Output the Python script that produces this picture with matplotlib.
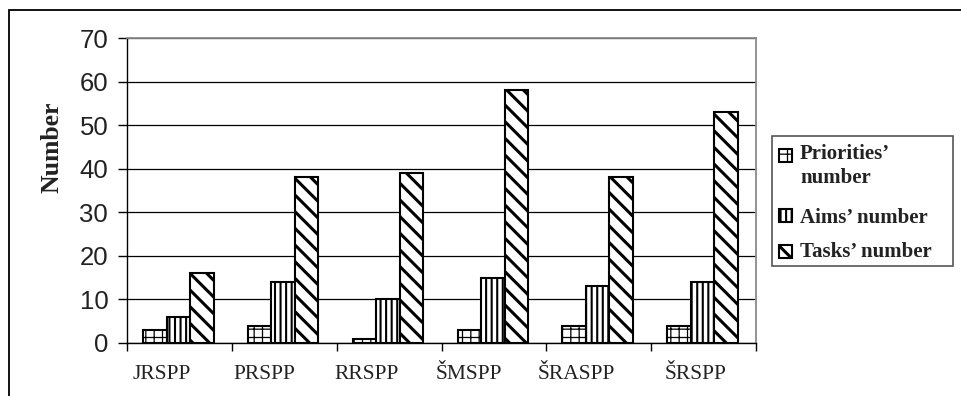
import matplotlib
matplotlib.use('Agg')
import matplotlib.pyplot as plt
from matplotlib.patches import Rectangle
import numpy as np

# ---- data ----
categories = ['JRSPP', 'PRSPP', 'RRSPP', 'ŠMSPP', 'ŠRASPP', 'ŠRSPP']
priorities = [3, 4, 1, 3, 4, 4]
aims = [6, 14, 10, 15, 13, 14]
tasks = [16, 38, 39, 58, 38, 53]
series_labels = ['Priorities’\nnumber', 'Aims’ number', 'Tasks’ number']
yticks = [0, 10, 20, 30, 40, 50, 60, 70]

# ---- style ----
W, H = 961, 396
SERIF = ['Liberation Serif', 'DejaVu Serif']
SANS = ['Liberation Sans', 'DejaVu Sans']
hatches = ['++', '|||', '\\\\']
hatch_lws = [0.9, 1.5, 2.2]
label_offsets = [-0.166, -0.193, -0.211, -0.238, -0.217, -0.072]

fig = plt.figure(figsize=(W / 100, H / 100), dpi=100)
fig.patch.set_facecolor('white')

# outer frame of the chart object
fig.add_artist(Rectangle((9 / W, -0.5), 2.0, 1.5 - 10 / H, transform=fig.transFigure,
                         fill=False, edgecolor='black', lw=1.3))

ax = fig.add_axes([127 / W, 1 - 343 / H, (756 - 127) / W, (343 - 38) / H])

x = np.arange(len(categories)) + 0.5
w = 0.224
series = [priorities, aims, tasks]
for k, (vals, hatch, hlw) in enumerate(zip(series, hatches, hatch_lws)):
    with plt.rc_context({'hatch.linewidth': hlw, 'hatch.color': 'black'}):
        bars = ax.bar(x + (k - 1) * w - 0.01, vals, width=w, facecolor='white',
                      edgecolor='black', linewidth=1.5, hatch=hatch, zorder=3)
        for b in bars:
            if hasattr(b, 'set_hatch_linewidth'):
                b.set_hatch_linewidth(hlw)

ax.set_xlim(0, len(categories))
ax.set_ylim(0, 70)
ax.set_yticks(yticks)
ax.set_yticklabels([str(v) for v in yticks], fontfamily=SANS, fontsize=18.5, color='#222222')
ax.tick_params(axis='y', direction='out', length=6.5, width=1, pad=7, color='black')

ax.set_xticks(np.arange(len(categories) + 1))
ax.set_xticklabels([''] * (len(categories) + 1))
ax.tick_params(axis='x', which='major', direction='out', length=6, width=1, color='black')
ax.set_xticks(x + np.array(label_offsets), minor=True)
ax.set_xticklabels(categories, minor=True, fontfamily=SERIF, fontsize=15.5, color='#222222')
ax.tick_params(axis='x', which='minor', length=0, pad=16)

ax.yaxis.grid(True, color='black', lw=0.9)
ax.set_axisbelow(True)
for s in ['left', 'bottom']:
    ax.spines[s].set_color('black')
    ax.spines[s].set_linewidth(1.0)
for s in ['top', 'right']:
    ax.spines[s].set_color('#8a8a8a')
    ax.spines[s].set_linewidth(1.3)

fig.text(52 / W, 1 - 147 / H, 'Number', rotation=90, ha='center', va='center',
         fontfamily=SERIF, fontweight='bold', fontsize=18.5, color='#222222')

# ---- legend (drawn manually so the two-line label aligns like the reference) ----
fig.add_artist(Rectangle((772 / W, 1 - 266 / H), 181 / W, 130 / H, transform=fig.transFigure,
                         facecolor='white', edgecolor='#555555', lw=1.2, zorder=5))
handle_tops = [149, 209, 245]
text_baselines = [159, 223, 257]
for k, (lab, hatch, hlw) in enumerate(zip(series_labels, hatches, hatch_lws)):
    with plt.rc_context({'hatch.linewidth': hlw, 'hatch.color': 'black'}):
        r = Rectangle((779 / W, 1 - (handle_tops[k] + 13) / H), 13 / W, 13 / H,
                      transform=fig.transFigure, facecolor='white', edgecolor='black',
                      lw=1.5, hatch=hatch, zorder=6)
        if hasattr(r, 'set_hatch_linewidth'):
            r.set_hatch_linewidth(hlw)
        fig.add_artist(r)
    lines = lab.split('\n')
    for j, line in enumerate(lines):
        fig.text(800 / W, 1 - (text_baselines[k] + 24 * j) / H, line, ha='left', va='baseline',
                 fontfamily=SERIF, fontweight='bold', fontsize=15, color='#222222', zorder=7)

fig.savefig('out.png', dpi=100, facecolor='white')
